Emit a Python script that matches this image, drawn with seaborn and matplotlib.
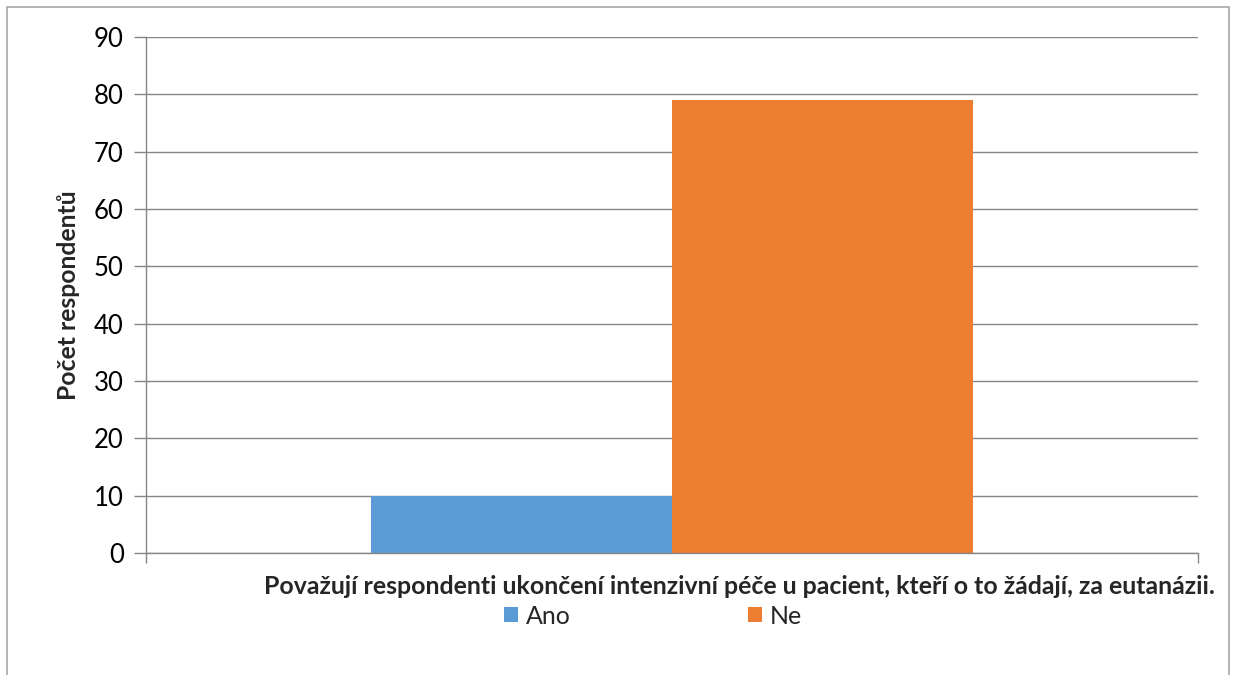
import matplotlib
matplotlib.use("Agg")
import matplotlib.pyplot as plt
from matplotlib.patches import Rectangle
import seaborn as sns
import pandas as pd

question = "Považují respondenti ukončení intenzivní péče u pacient, kteří o to žádají, za eutanázii."
answers = ["Ano", "Ne"]
counts = [10, 79]
colors = ["#5B9BD5", "#ED7D31"]
y_ticks = [0, 10, 20, 30, 40, 50, 60, 70, 80, 90]

df = pd.DataFrame({"otazka": [question] * len(answers), "odpoved": answers, "pocet": counts})

sns.set_theme(style="white")
plt.rcParams["font.family"] = ["Lato", "DejaVu Sans"]

W, H = 1235, 675
fig = plt.figure(figsize=(W / 100, H / 100), dpi=100)
ax = fig.add_axes([146 / W, 1 - 553 / H, (1198 - 146) / W, (553 - 37) / H])

sns.barplot(data=df, x="otazka", y="pocet", hue="odpoved", palette=colors,
            width=0.572, saturation=1, ax=ax, legend=False)

ax.set_xlim(-0.5, 0.5)
ax.set_ylim(0, 90)
ax.set_yticks(y_ticks)
ax.set_yticklabels([str(t) for t in y_ticks], fontsize=18.5, color="#000000")
ax.tick_params(axis="y", length=9, width=1, color="#868686", pad=7, direction="out", left=True)
ax.set_xticks([-0.5, 0.5])
ax.set_xticklabels(["", ""])
ax.tick_params(axis="x", length=7, width=1, color="#868686", direction="out", bottom=True)
ax.yaxis.grid(True, color="#868686", linewidth=1)
ax.set_axisbelow(True)
for side in ["top", "right"]:
    ax.spines[side].set_visible(False)
for side in ["left", "bottom"]:
    ax.spines[side].set_color("#868686")
    ax.spines[side].set_linewidth(1)
for b in ax.patches:
    b.set_edgecolor("none")

ax.set_ylabel("Počet respondentů", fontsize=17.8, fontweight="bold", labelpad=10)
ax.set_xlabel("")
fig.text(739 / W, 1 - 586 / H, question, ha="center", va="center",
         fontsize=17.9, fontweight="bold")

handles = [Rectangle((0, 0), 1, 1, facecolor=c, edgecolor="none") for c in colors]
fig.legend(handles, answers, loc="center", bbox_to_anchor=(653 / W, 1 - 616 / H),
           ncol=2, frameon=False, fontsize=18, handlelength=0.55, handleheight=0.55,
           handletextpad=0.3, columnspacing=7.1, borderpad=0, borderaxespad=0)

fig.patches.append(Rectangle((7 / W, -0.05), (1229 - 7) / W, 1.05 - 7 / H,
                             transform=fig.transFigure, fill=False,
                             edgecolor="#a6a6a6", linewidth=1.2))

fig.savefig("out.png", dpi=100, facecolor="white")
